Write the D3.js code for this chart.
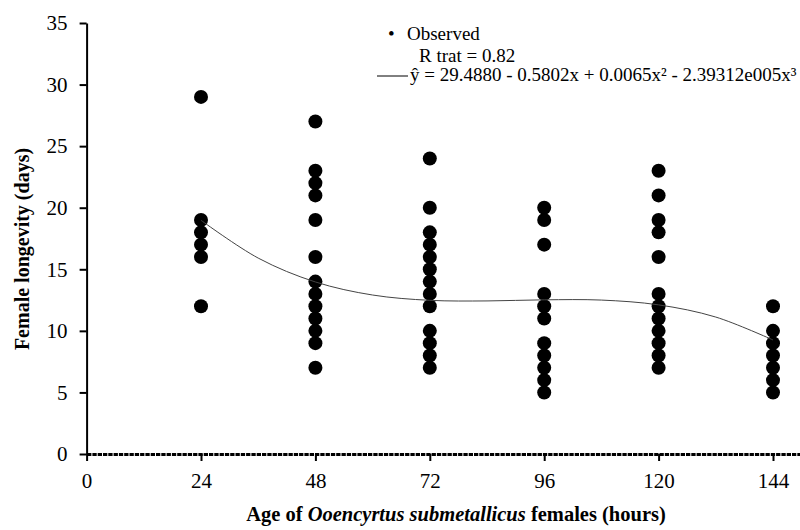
<!DOCTYPE html>
<html>
<head>
<meta charset="utf-8">
<script src="https://cdn.jsdelivr.net/npm/d3@7"></script>
<style>
  body { margin: 0; background: #fff; }
  svg text { font-family: "Liberation Serif", Tinos, "Times New Roman", Times, "DejaVu Serif", serif; fill: #000; }
</style>
</head>
<body>
<div class="chart"></div>
<script>
// observed female longevity (days) by age of females (hours)
const ages = [24, 48, 72, 96, 120, 144];
const obs24 = [29, 19, 18, 17, 16, 12];
const obs48 = [27, 23, 22, 21, 19, 16, 14, 13, 12, 11, 10, 9, 7];
const obs72 = [24, 20, 18, 17, 16, 15, 14, 13, 12, 10, 9, 8, 7];
const obs96 = [20, 19, 17, 13, 12, 11, 9, 8, 7, 6, 5];
const obs120 = [23, 21, 19, 18, 16, 13, 12, 11, 10, 9, 8, 7];
const obs144 = [12, 10, 9, 8, 7, 6, 5];

// fitted curve
const fitX = [24, 36, 48, 60, 72, 84, 96, 108, 120, 132, 144];
const fitY = [18.98, 15.91, 13.97, 12.91, 12.48, 12.43, 12.52, 12.50, 12.11, 11.12, 9.26];

const xTicks = [0, 24, 48, 72, 96, 120, 144];
const yTicks = [0, 5, 10, 15, 20, 25, 30, 35];

const width = 800, height = 530;

const svg = d3.select(".chart").append("svg")
    .attr("width", width)
    .attr("height", height);

let x = d3.scaleLinear().domain([0, 150]).range([86.6, 801.6]);
let y = d3.scaleLinear().domain([0, 35]).range([454, 23]);

// points
const columns = [obs24, obs48, obs72, obs96, obs120, obs144];
const points = [];
columns.forEach(function (col, i) {
    col.forEach(function (v) { points.push({ age: ages[i], value: v }); });
});

svg.append("g")
    .selectAll("circle").data(points).enter()
    .append("circle")
        .attr("cx", function (d) { return x(d.age); })
        .attr("cy", function (d) { return y(d.value); })
        .attr("r", 7)
        .attr("fill", "#000");

// fitted line
const fit = fitX.map(function (v, i) { return [v, fitY[i]]; });
svg.append("path")
    .datum(fit)
    .attr("fill", "none")
    .attr("stroke", "#444")
    .attr("stroke-width", 1)
    .attr("d", d3.line()
        .x(function (d) { return x(d[0]); })
        .y(function (d) { return y(d[1]); })
        .curve(d3.curveCatmullRom));

// axes
let leftAxis = d3.axisLeft(y).tickValues(yTicks).tickSize(7).tickPadding(12).tickSizeOuter(0);
let bottomAxis = d3.axisBottom(x).tickValues(xTicks).tickSize(7).tickPadding(12).tickSizeOuter(0);

const gy = svg.append("g")
    .attr("transform", "translate(" + x(0) + ",0)")
    .call(leftAxis);
gy.attr("font-family", null).attr("font-size", 21);
gy.select(".domain").attr("stroke-width", 2);
gy.selectAll(".tick line").attr("stroke-width", 2);

const gx = svg.append("g")
    .attr("transform", "translate(0," + y(0) + ")")
    .call(bottomAxis);
gx.attr("font-family", null).attr("font-size", 21);
gx.select(".domain").attr("stroke-width", 3).attr("stroke-dasharray", "4.3,1");
gx.selectAll(".tick line").attr("stroke-width", 2);

// axis titles
svg.append("text")
    .attr("transform", "translate(29,249) rotate(-90)")
    .attr("text-anchor", "middle")
    .attr("font-size", 20)
    .attr("font-weight", "bold")
    .text("Female longevity (days)");

const xt = svg.append("text")
    .attr("x", 456)
    .attr("y", 521)
    .attr("text-anchor", "middle")
    .attr("font-size", 20.5)
    .attr("font-weight", "bold");
xt.append("tspan").text("Age of ");
xt.append("tspan").attr("font-style", "italic").text("Ooencyrtus submetallicus");
xt.append("tspan").text(" females (hours)");

// legend
const lg = svg.append("g").attr("font-size", 19);
lg.append("text").attr("x", 388).attr("y", 40).text("\u2022");
lg.append("text").attr("x", 407).attr("y", 40).text("Observed");
lg.append("text").attr("x", 419).attr("y", 61.5).text("R trat = 0.82");
lg.append("line")
    .attr("x1", 377).attr("x2", 408)
    .attr("y1", 76).attr("y2", 76)
    .attr("stroke", "#000").attr("stroke-width", 1);
lg.append("text").attr("x", 410).attr("y", 81)
    .text("\u0177 = 29.4880 - 0.5802x + 0.0065x\u00b2 - 2.39312e005x\u00b3");
</script>
</body>
</html>
